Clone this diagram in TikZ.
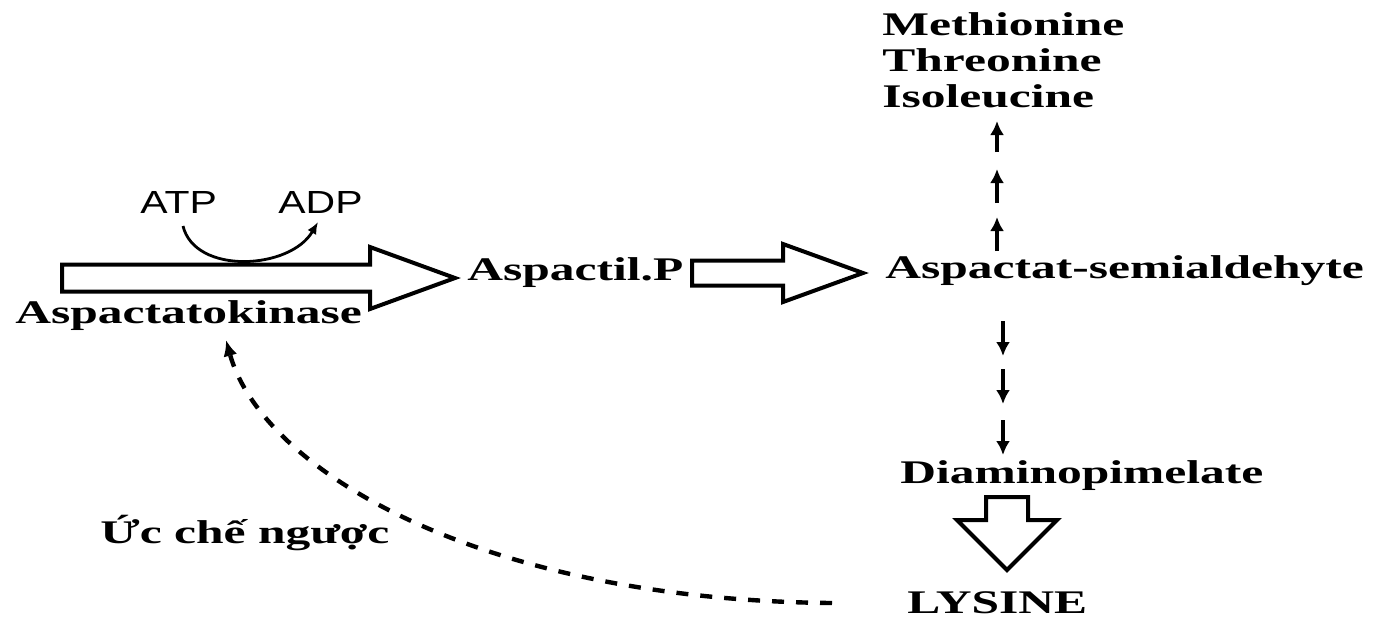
\documentclass[tikz,border=0pt]{standalone}
\usepackage{fontspec}
\usetikzlibrary{arrows.meta,calc}
\newfontfamily\labserif[FakeStretch=1.5]{Liberation Serif}
\newfontfamily\labsans[FakeStretch=1.28]{Liberation Sans}
\tikzset{
  lbl/.style={anchor=base west, inner sep=0pt, font=\labserif\bfseries\fontsize{16.5}{18}\selectfont},
  mol/.style={anchor=base west, inner sep=0pt, font=\labsans\fontsize{16}{18}\selectfont},
  blockarr/.style={draw=black, line width=2pt, fill=white, line join=miter},
  smallarr/.style={line width=1.7pt, -{Latex[length=7pt,width=7pt]}},
  cofactor/.style={line width=1.4pt, -{Latex[length=6pt,width=5pt]}},
  feedback/.style={line width=2.2pt, dash pattern=on 6pt off 6pt, -{Latex[length=8pt,width=7pt]}}
}
\begin{document}
\begin{tikzpicture}[x=0.5pt,y=-0.5pt]
\useasboundingbox (0,0) rectangle (1376,618);

% labels
\node[mol] (atp) at (140,213) {ATP};
\node[mol] (adp) at (278,213) {ADP};
\node[lbl] (kin) at (15,323) {Aspactatokinase};
\node[lbl] (asp) at (467,280) {Aspactil.P};
\node[lbl] (semi) at (885,278) {Aspactat-semialdehyte};
\node[lbl] (met) at (882,35) {Methionine};
\node[lbl] (thr) at (882,71) {Threonine};
\node[lbl] (iso) at (882,107) {Isoleucine};
\node[lbl] (dap) at (900,483) {Diaminopimelate};
\node[lbl] (lys) at (907,613) {LYSINE};
\node[lbl] (inh) at (100,543) {Ức chế ngược};

% block arrow: aspartate -> aspartyl phosphate
\coordinate (a1s) at (62,278);
\coordinate (a1t) at (455,278);
\draw[blockarr] ($(a1s)+(0,-13.5)$) -- ($(a1t)+(-85,-13.5)$) -- ($(a1t)+(-85,-31)$)
  -- (a1t) -- ($(a1t)+(-85,31)$) -- ($(a1t)+(-85,13.5)$) -- ($(a1s)+(0,13.5)$) -- cycle;

% block arrow: aspartyl phosphate -> semialdehyde
\coordinate (a2s) at (692,273);
\coordinate (a2t) at (863,273);
\draw[blockarr] ($(a2s)+(0,-12.5)$) -- ($(a2t)+(-80,-12.5)$) -- ($(a2t)+(-80,-29)$)
  -- (a2t) -- ($(a2t)+(-80,29)$) -- ($(a2t)+(-80,12.5)$) -- ($(a2s)+(0,12.5)$) -- cycle;

% block arrow: diaminopimelate -> lysine
\coordinate (a3s) at (1007,497);
\coordinate (a3t) at (1007,570);
\draw[blockarr] ($(a3s)+(-21,0)$) -- ($(a3t)+(-21,-50)$) -- ($(a3t)+(-50,-50)$)
  -- (a3t) -- ($(a3t)+(50,-50)$) -- ($(a3t)+(21,-50)$) -- ($(a3s)+(21,0)$) -- cycle;

% ATP -> ADP cofactor arc
\draw[cofactor] (183,226) .. controls (195,275) and (290,270) .. (318,222);

% semialdehyde -> methionine / threonine / isoleucine (several steps)
\draw[smallarr] (997,152) -- (997,121);
\draw[smallarr] (997,203) -- (997,169);
\draw[smallarr] (997,251) -- (997,217);

% semialdehyde -> diaminopimelate (several steps)
\draw[smallarr] (1003,321) -- (1003,356);
\draw[smallarr] (1003,369) -- (1003,404);
\draw[smallarr] (1003,420) -- (1003,455);

% feedback inhibition of aspartokinase by lysine
\draw[feedback] (832,603) .. controls (480,600) and (262,470) .. (226,340);
\end{tikzpicture}
\end{document}
